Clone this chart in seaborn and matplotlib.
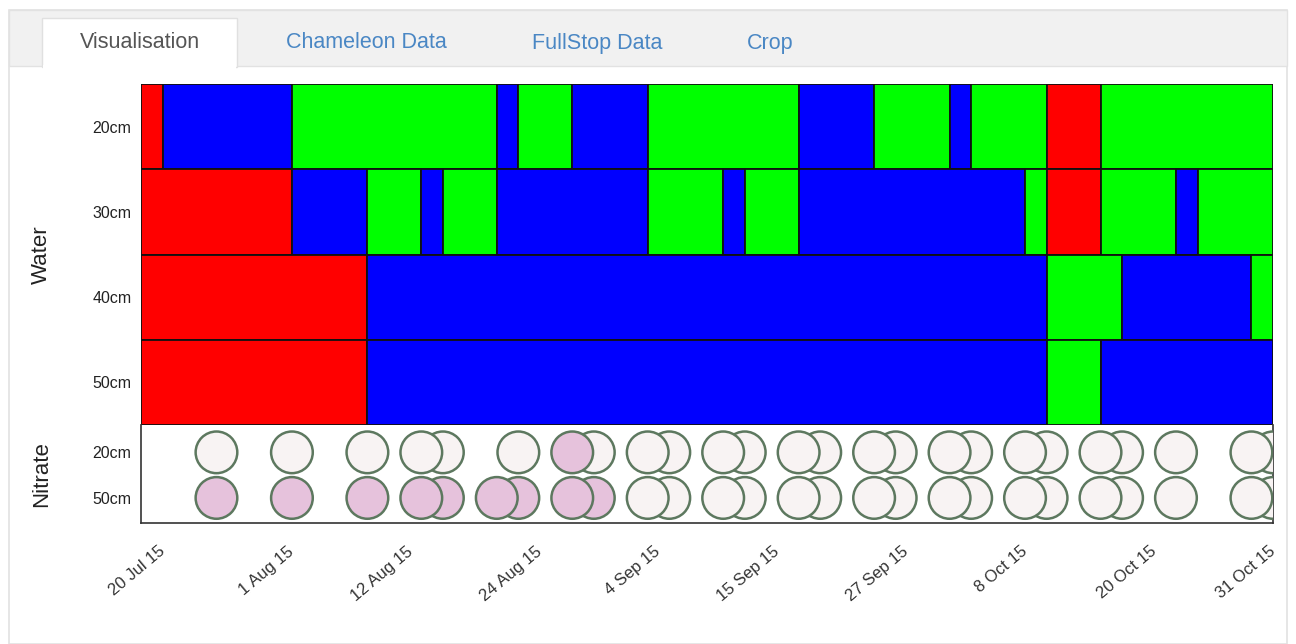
import matplotlib
matplotlib.use("Agg")
import numpy as np
import pandas as pd
import seaborn as sns
import matplotlib.pyplot as plt
import matplotlib.dates as mdates
from matplotlib.patches import Rectangle

# ---------------- data ----------------
tabs = ["Visualisation", "Chameleon Data", "FullStop Data", "Crop"]

water_depths = ["20cm", "30cm", "40cm", "50cm"]
nitrate_depths = ["20cm", "50cm"]

domain_start = "2015-07-18"
domain_end = "2015-10-31"

w20_breaks = ["2015-07-18", "2015-07-20", "2015-08-01", "2015-08-20", "2015-08-22", "2015-08-27",
              "2015-09-03", "2015-09-17", "2015-09-24", "2015-10-01", "2015-10-03", "2015-10-10",
              "2015-10-15", "2015-10-31"]
w20_status = ["R", "B", "G", "B", "G", "B", "G", "B", "G", "B", "G", "R", "G"]

w30_breaks = ["2015-07-18", "2015-08-01", "2015-08-08", "2015-08-13", "2015-08-15", "2015-08-20",
              "2015-09-03", "2015-09-10", "2015-09-12", "2015-09-17", "2015-10-08", "2015-10-10",
              "2015-10-15", "2015-10-22", "2015-10-24", "2015-10-31"]
w30_status = ["R", "B", "G", "B", "G", "B", "G", "B", "G", "B", "G", "R", "G", "B", "G"]

w40_breaks = ["2015-07-18", "2015-08-08", "2015-10-10", "2015-10-17", "2015-10-29", "2015-10-31"]
w40_status = ["R", "B", "G", "B", "G"]

w50_breaks = ["2015-07-18", "2015-08-08", "2015-10-10", "2015-10-15", "2015-10-31"]
w50_status = ["R", "B", "G", "B"]

n20_dates = ["2015-07-25", "2015-08-01", "2015-08-08", "2015-08-13", "2015-08-15", "2015-08-22",
             "2015-08-27", "2015-08-29", "2015-09-03", "2015-09-05", "2015-09-10", "2015-09-12",
             "2015-09-17", "2015-09-19", "2015-09-24", "2015-09-26", "2015-10-01", "2015-10-03",
             "2015-10-08", "2015-10-10", "2015-10-15", "2015-10-17", "2015-10-22", "2015-10-29",
             "2015-10-31"]
n20_level = ["low", "low", "low", "low", "low", "low",
             "high", "low", "low", "low", "low", "low",
             "low", "low", "low", "low", "low", "low",
             "low", "low", "low", "low", "low", "low", "low"]

n50_dates = ["2015-07-25", "2015-08-01", "2015-08-08", "2015-08-13", "2015-08-15", "2015-08-20",
             "2015-08-22", "2015-08-27", "2015-08-29", "2015-09-03", "2015-09-05", "2015-09-10",
             "2015-09-12", "2015-09-17", "2015-09-19", "2015-09-24", "2015-09-26", "2015-10-01",
             "2015-10-03", "2015-10-08", "2015-10-10", "2015-10-15", "2015-10-17", "2015-10-22",
             "2015-10-29", "2015-10-31"]
n50_level = ["high", "high", "high", "high", "high", "high",
             "high", "high", "high", "low", "low", "low",
             "low", "low", "low", "low", "low", "low",
             "low", "low", "low", "low", "low", "low", "low", "low"]

tick_dates = ["2015-07-20", "2015-08-01", "2015-08-12", "2015-08-24", "2015-09-04",
              "2015-09-15", "2015-09-27", "2015-10-08", "2015-10-20", "2015-10-31"]
tick_labels = ["20 Jul 15", "1 Aug 15", "12 Aug 15", "24 Aug 15", "4 Sep 15",
               "15 Sep 15", "27 Sep 15", "8 Oct 15", "20 Oct 15", "31 Oct 15"]

# ---------------- styling ----------------
sns.set_theme(style="white")
plt.rcParams["font.family"] = ["Liberation Sans", "DejaVu Sans"]

status_colors = {"R": "#ff0000", "B": "#0000ff", "G": "#00ff00"}
level_colors = {"high": "#e6c2dc", "low": "#f8f3f3"}

W, H = 1296, 644
fig = plt.figure(figsize=(W / 100, H / 100), dpi=100)
fig.patch.set_facecolor("white")


def fx(x):
    return x / W


def fy(y):
    return 1 - y / H


# card / tab chrome
fig.add_artist(Rectangle((fx(9), fy(644)), fx(1278), (634) / H, transform=fig.transFigure,
                         facecolor="white", edgecolor="#e2e2e2", linewidth=1.2, zorder=0))
fig.add_artist(Rectangle((fx(9), fy(66)), fx(1278), 56 / H, transform=fig.transFigure,
                         facecolor="#f1f1f1", edgecolor="#e2e2e2", linewidth=1.0, zorder=1))
fig.add_artist(Rectangle((fx(42), fy(67)), fx(195), 49 / H, transform=fig.transFigure,
                         facecolor="white", edgecolor="#e0e0e0", linewidth=1.0, zorder=2))
fig.add_artist(Rectangle((fx(43), fy(69)), fx(193), 4 / H, transform=fig.transFigure,
                         facecolor="white", edgecolor="none", zorder=3))
tab_x = [140, 366, 597, 770]
tab_col = ["#555555", "#4a87c4", "#4a87c4", "#4a87c4"]
for t, x, c in zip(tabs, tab_x, tab_col):
    fig.text(fx(x), fy(43), t, ha="center", va="center", fontsize=15.5, color=c, zorder=4)

# axes
left, right = 141, 1273
ax_w = fig.add_axes([fx(left), fy(425), (right - left) / W, (425 - 84) / H])
ax_n = fig.add_axes([fx(left), fy(523), (right - left) / W, (523 - 425) / H])

x0 = mdates.date2num(pd.Timestamp(domain_start))
x1 = mdates.date2num(pd.Timestamp(domain_end))

# water segments
water_rows = [(w20_breaks, w20_status), (w30_breaks, w30_status),
              (w40_breaks, w40_status), (w50_breaks, w50_status)]
seg_records = []
for depth, (breaks, status) in zip(water_depths, water_rows):
    b = mdates.date2num(pd.to_datetime(breaks))
    for s, e, st in zip(b[:-1], b[1:], status):
        seg_records.append({"depth": depth, "start": s, "dur": e - s, "status": st})
seg = pd.DataFrame(seg_records)
seg["row"] = seg["depth"].map({d: i for i, d in enumerate(water_depths)})

ax_w.barh(seg["row"], seg["dur"], left=seg["start"], height=1.0,
          color=seg["status"].map(status_colors), edgecolor="#111111", linewidth=1.3, zorder=2)
ax_w.set_xlim(x0, x1)
ax_w.set_ylim(3.5, -0.5)
ax_w.set_yticks(range(len(water_depths)))
ax_w.set_yticklabels(water_depths)
ax_w.set_xticks([])
for sp in ax_w.spines.values():
    sp.set_visible(False)
ax_w.set_ylabel("Water", fontsize=16, color="#222222")
ax_w.yaxis.set_label_coords(-89 / (right - left), 0.5)

# nitrate circles
n_df = pd.concat([
    pd.DataFrame({"depth": "20cm", "date": pd.to_datetime(n20_dates), "level": n20_level}),
    pd.DataFrame({"depth": "50cm", "date": pd.to_datetime(n50_dates), "level": n50_level}),
], ignore_index=True)
n_df["x"] = mdates.date2num(n_df["date"])
n_df["row"] = n_df["depth"].map({d: i for i, d in enumerate(nitrate_depths)})
n_df = n_df.sort_values("x", ascending=False)  # earlier circles drawn on top

sns.scatterplot(data=n_df, x="x", y="row", hue="level", palette=level_colors,
                s=900, edgecolor="#5d785f", linewidth=1.8, legend=False, ax=ax_n, zorder=3)
ax_n.set_xlim(x0, x1)
ax_n.set_ylim(1.55, -0.6)
ax_n.set_yticks(range(len(nitrate_depths)))
ax_n.set_yticklabels(nitrate_depths)
ax_n.set_xticks(mdates.date2num(pd.to_datetime(tick_dates)))
ax_n.set_xticklabels(tick_labels, rotation=40, ha="right", va="center",
                     rotation_mode="anchor")
ax_n.set_xlabel("")
ax_n.set_ylabel("Nitrate", fontsize=16, color="#222222")
ax_n.yaxis.set_label_coords(-89 / (right - left), 0.5)
ax_n.set_facecolor("white")
ax_n.spines["top"].set_visible(False)
for k in ["left", "bottom", "right"]:
    ax_n.spines[k].set_color("#333333")
    ax_n.spines[k].set_linewidth(1.2)

for ax in (ax_w, ax_n):
    ax.tick_params(axis="y", length=0, pad=7, labelsize=11.5, labelcolor="#222222")
ax_n.tick_params(axis="x", length=0, pad=19, labelsize=12, labelcolor="#333333")

fig.savefig("out.png", dpi=100)
